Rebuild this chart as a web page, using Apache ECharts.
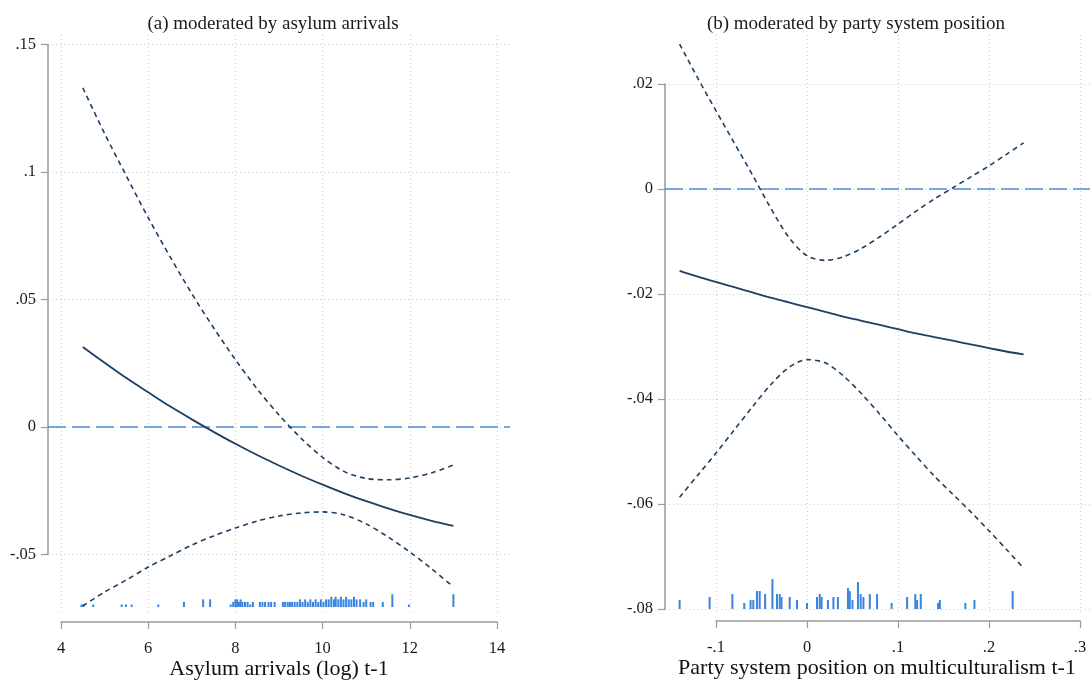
<!DOCTYPE html>
<html>
<head>
<meta charset="utf-8">
<script src="https://cdn.jsdelivr.net/npm/echarts@6/dist/echarts.min.js"></script>
<style>
  html, body { margin: 0; padding: 0; background: #fff; }
  #chart { width: 1091px; height: 682px; }
</style>
</head>
<body>
<div id="chart"></div>
<script>
// panel (a): asylum arrivals
const asylumX = [4.5, 5, 5.5, 6, 6.5, 7, 7.5, 8, 8.5, 9, 9.5, 10, 10.5, 11, 11.5, 12, 12.5, 13];
const asylumEst = [0.0314, 0.0252, 0.0192, 0.0136, 0.0081, 0.0030, -0.0019, -0.0066, -0.0110, -0.0151, -0.0190, -0.0226, -0.0260, -0.0291, -0.0319, -0.0345, -0.0368, -0.0388];
const asylumHi = [0.1330, 0.1151, 0.0984, 0.0821, 0.0668, 0.0523, 0.0389, 0.0264, 0.0149, 0.0047, -0.0043, -0.0119, -0.0175, -0.0202, -0.0207, -0.0200, -0.0180, -0.0149];
const asylumLo = [-0.0702, -0.0647, -0.0600, -0.0549, -0.0506, -0.0463, -0.0427, -0.0396, -0.0369, -0.0349, -0.0337, -0.0333, -0.0345, -0.0380, -0.0431, -0.0490, -0.0556, -0.0627];
const asylumRugX = [4.47, 4.51, 4.74, 5.39, 5.49, 5.62, 6.23, 6.82, 7.26, 7.42, 7.89, 7.95, 8.0, 8.04, 8.08, 8.12, 8.16, 8.22, 8.28, 8.34, 8.40,
  8.56, 8.62, 8.68, 8.76, 8.82, 8.9, 9.09, 9.14, 9.2, 9.25, 9.3, 9.36, 9.42, 9.48, 9.54, 9.6, 9.66, 9.72, 9.78, 9.84, 9.9, 9.96,
  10.02, 10.08, 10.14, 10.2, 10.26, 10.3, 10.36, 10.42, 10.48, 10.54, 10.6, 10.66, 10.72, 10.78, 10.86, 10.94, 11.0, 11.1, 11.16,
  11.38, 11.6, 11.98, 13.0];
const asylumRugN = [1, 1, 1, 1, 1, 1, 1, 2, 3, 3, 1, 2, 3, 3, 2, 3, 2, 2, 2, 1, 2,
  2, 2, 2, 2, 2, 2, 2, 2, 2, 2, 2, 2, 2, 3, 2, 3, 2, 3, 2, 3, 2, 3,
  2, 3, 3, 4, 3, 4, 3, 4, 3, 4, 3, 3, 4, 3, 3, 2, 3, 2, 2,
  2, 5, 1, 5];

// panel (b): party system position
const partyX = [-0.14, -0.12, -0.10, -0.08, -0.06, -0.04, -0.02, 0, 0.02, 0.04, 0.06, 0.08, 0.10, 0.12, 0.14, 0.16, 0.18, 0.20, 0.22, 0.238];
const partyEst = [-0.0156, -0.0167, -0.0177, -0.0187, -0.0197, -0.0207, -0.0216, -0.0225, -0.0234, -0.0243, -0.0251, -0.0259, -0.0267, -0.0275, -0.0282, -0.0289, -0.0296, -0.0303, -0.0310, -0.0315];
const partyHi = [0.0276, 0.0211, 0.0149, 0.0088, 0.0027, -0.0036, -0.0092, -0.0127, -0.0136, -0.0129, -0.0113, -0.0091, -0.0067, -0.0042, -0.0019, 0.0002, 0.0023, 0.0044, 0.0067, 0.0088];
const partyLo = [-0.0587, -0.0545, -0.0503, -0.0459, -0.0415, -0.0373, -0.0340, -0.0325, -0.0331, -0.0356, -0.0390, -0.0429, -0.0470, -0.0509, -0.0547, -0.0581, -0.0615, -0.0651, -0.0688, -0.0722];
const partyRugX = [-0.140, -0.107, -0.082, -0.069, -0.062, -0.059, -0.055, -0.052, -0.046, -0.038, -0.033, -0.030, -0.028, -0.019, -0.011,
  0.000, 0.011, 0.014, 0.016, 0.023, 0.029, 0.034, 0.045, 0.047, 0.050, 0.056, 0.059, 0.062, 0.069, 0.077, 0.093,
  0.110, 0.119, 0.121, 0.125, 0.144, 0.146, 0.174, 0.184, 0.226];
const partyRugN = [3, 4, 5, 2, 3, 3, 6, 6, 5, 10, 5, 5, 4, 4, 3,
  2, 4, 5, 4, 3, 4, 4, 7, 6, 3, 9, 5, 4, 5, 5, 2,
  4, 5, 3, 5, 2, 3, 2, 3, 6];

const titles = ["(a) moderated by asylum arrivals", "(b) moderated by party system position"];
const xNames = ["Asylum arrivals (log) t-1", "Party system position on multiculturalism t-1"];

// layout in pixels
const panels = [
  { plot: { l: 48, t: 35, r: 510, b: 612 }, x: { min: 4, max: 14, step: 2, l: 61, r: 497, y: 622 },
    y: { min: -0.05, max: 0.15, step: 0.05, t: 44.5, b: 554.5 }, title: 268, rugBase: -0.0706, rugUnit: 0.001, rugW: 2,
    nameShift: 0 },
  { plot: { l: 665, t: 35, r: 1090, b: 612 }, x: { min: -0.1, max: 0.3, step: 0.1, l: 716, r: 1080, y: 621 },
    y: { min: -0.08, max: 0.02, step: 0.02, t: 84, b: 609 }, title: 851, rugBase: -0.08, rugUnit: 0.00057, rugW: 2,
    nameShift: 42 }
];

const FONT = "Liberation Serif";
const AXIS = "#9a9a9a";
const GRID = "#c9c9c9";
const CURVE = "#1d3f60";
const ZERO = "#4a8fdb";
const RUG = "#3a84e0";

function stataFmt(v) {
  let s = String(+(+v).toFixed(4));
  return s.replace(/^0\./, ".").replace(/^-0\./, "-.");
}

const zip = (xs, ys) => xs.map((x, i) => [x, ys[i]]);

const grid = [], xAxis = [], yAxis = [], series = [], title = [];
const N = 4; // grids per panel

const box = (l, t, w, h) => ({ left: l, top: t, width: w, height: h, containLabel: false, outerBoundsMode: "none" });
const dotted = { show: true, lineStyle: { color: GRID, type: [1, 3], width: 1 } };
const hidden = (g) => ({ gridIndex: g, type: "value", show: false, min: 0, max: 1 });

panels.forEach((p, k) => {
  const g0 = k * N;
  // 0: data grid covering the whole plot region
  const sx = (p.x.max - p.x.min) / (p.x.r - p.x.l);
  const sy = (p.y.max - p.y.min) / (p.y.b - p.y.t);
  grid.push(box(p.plot.l, p.plot.t, p.plot.r - p.plot.l, p.plot.b - p.plot.t));
  xAxis.push({ gridIndex: g0, type: "value", show: false,
    min: p.x.min - (p.x.l - p.plot.l) * sx, max: p.x.max + (p.plot.r - p.x.r) * sx });
  yAxis.push({ gridIndex: g0, type: "value", show: false,
    min: p.y.min - (p.plot.b - p.y.b) * sy, max: p.y.max + (p.y.t - p.plot.t) * sy });

  // 1: vertical grid lines
  grid.push(box(p.x.l, p.plot.t, p.x.r - p.x.l, p.plot.b - p.plot.t));
  xAxis.push({ gridIndex: g0 + 1, type: "value", min: p.x.min, max: p.x.max, interval: p.x.step,
    axisLine: { show: false }, axisTick: { show: false }, axisLabel: { show: false }, splitLine: dotted });
  yAxis.push(hidden(g0 + 1));

  // 2: x axis, detached below the plot region
  grid.push(box(p.x.l, p.x.y - 10, p.x.r - p.x.l, 10));
  xAxis.push({ gridIndex: g0 + 2, type: "value", min: p.x.min, max: p.x.max, interval: p.x.step,
    axisLine: { lineStyle: { color: AXIS, width: 1.5 } },
    axisTick: { length: 7, lineStyle: { color: AXIS, width: 1.2 } },
    axisLabel: { fontFamily: FONT, fontSize: 16.5, color: "#1a1a1a", margin: 18, formatter: stataFmt },
    splitLine: { show: false },
    name: xNames[k], nameLocation: "middle", nameGap: 34,
    nameTextStyle: { fontFamily: FONT, fontSize: 22, color: "#111", padding: [0, p.nameShift, 0, 0] } });
  yAxis.push(hidden(g0 + 2));

  // 3: y axis + horizontal grid lines
  grid.push(box(p.plot.l, p.y.t, p.plot.r - p.plot.l, p.y.b - p.y.t));
  xAxis.push(hidden(g0 + 3));
  yAxis.push({ gridIndex: g0 + 3, type: "value", min: p.y.min, max: p.y.max, interval: p.y.step,
    axisLine: { show: true, lineStyle: { color: AXIS, width: 1.5 } },
    axisTick: { show: true, length: 7, lineStyle: { color: AXIS, width: 1.2 } },
    axisLabel: { fontFamily: FONT, fontSize: 16.5, color: "#1a1a1a", margin: 12, formatter: stataFmt },
    splitLine: dotted });

  title.push({ text: titles[k], left: p.title, top: 10, textAlign: "center",
    textStyle: { fontFamily: FONT, fontSize: 19, fontWeight: "normal", color: "#1a1a1a" } });
});

function curves(k, xs, est, lo, hi, rugX, rugN) {
  const p = panels[k];
  const g = k * N;
  series.push({
    type: "custom", xAxisIndex: g, yAxisIndex: g, silent: true, z: 2,
    data: zip(rugX, rugN),
    renderItem: (params, api) => {
      const a = api.coord([api.value(0), p.rugBase]);
      const b = api.coord([api.value(0), p.rugBase + api.value(1) * p.rugUnit]);
      return { type: "rect", shape: { x: a[0] - p.rugW / 2, y: b[1], width: p.rugW, height: a[1] - b[1] },
        style: { fill: RUG } };
    }
  });
  const line = (data, type, w) => ({
    type: "line", xAxisIndex: g, yAxisIndex: g, data: data, showSymbol: false, smooth: 0.3, z: 4,
    lineStyle: { color: CURVE, width: w, type: type }, silent: true
  });
  const e = line(zip(xs, est), "solid", 1.8);
  e.markLine = { symbol: "none", silent: true, label: { show: false }, z: 3,
    lineStyle: { color: ZERO, type: [18, 6], width: 1.6 }, data: [{ yAxis: 0 }] };
  series.push(e);
  series.push(line(zip(xs, hi), [5, 4], 1.6));
  series.push(line(zip(xs, lo), [5, 4], 1.6));
}

curves(0, asylumX, asylumEst, asylumLo, asylumHi, asylumRugX, asylumRugN);
curves(1, partyX, partyEst, partyLo, partyHi, partyRugX, partyRugN);

const chart = echarts.init(document.getElementById("chart"), null, { renderer: "canvas" });
chart.setOption({ animation: false, backgroundColor: "#fff", title, grid, xAxis, yAxis, series });
</script>
</body>
</html>
